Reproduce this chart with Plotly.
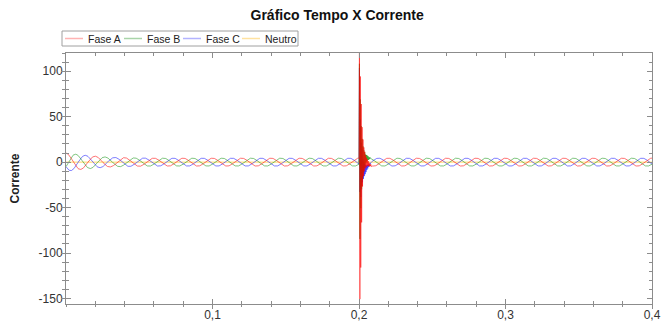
import numpy as np
import plotly.graph_objects as go

# ---------------- data ----------------
freq_hz = 50.0
phase_deg = {"Fase A": 0.0, "Fase B": -120.0, "Fase C": 120.0}
# amplitude envelope of the phase currents (read at these times)
env_t = [0.0, 0.01, 0.02, 0.03, 0.045, 0.06, 0.2, 0.215, 0.4]
env_a = [10.0, 8.0, 6.5, 5.3, 4.7, 4.4, 4.4, 4.4, 4.4]

fault_t0 = 0.2
fault_dt = 0.0003
fault_A = [0, 118, -155, 90, -120, 60, -70, 35, -30, 22, -18, 14, -12, 10, -8,
           7, -6, 5, -4, 4, -3, 3, -2, 2, -2, 1, -1, 1, -1, 0]
fault_B = [0, 110, -83, 70, -50, 40, -30, 25, -20, 16, -13, 11, -9, 8, -6,
           5, -4, 4, -3, 3, -2, 2, -2, 1, -1, 1, 0, 0, 0, 0]
fault_C = [0, 106, -30, 50, -35, 25, -22, 18, -18, 8, -14, 4, -11, 2, -9,
           1, -7, 0, -5, 0, -4, 0, -3, 0, -2, 0, -1, 0, 0, 0]
fault_N = [0, 4, -4, 3, -3, 2, -2, 1, -1, 0, 0, 0, 0, 0, 0,
           0, 0, 0, 0, 0, 0, 0, 0, 0, 0, 0, 0, 0, 0, 0]

series_names = ["Fase A", "Fase B", "Fase C", "Neutro"]
series_colors = ["rgba(255,0,0,0.55)", "rgba(0,140,0,0.5)",
                 "rgba(0,0,255,0.5)", "rgba(255,190,0,0.6)"]
legend_colors = ["#ffb3b3", "#a9d4a9", "#b3b3ff", "#ffe2a0"]

x_tickvals = [0.1, 0.2, 0.3, 0.4]
x_ticktext = ["0,1", "0,2", "0,3", "0,4"]
y_tickvals = [100, 50, 0, -50, -100, -150]
y_ticktext = ["100", "50", "0", "-50", "-100", "-150"]

# ---------------- build waveforms ----------------
t = np.arange(0, 0.4 + 1e-9, 0.0002)
t_f = fault_t0 + fault_dt * np.arange(len(fault_A))
t_all = np.union1d(t, t_f)
env_all = np.interp(t_all, env_t, env_a)

def fault_part(vals):
    out = np.zeros_like(t_all)
    mask = (t_all >= t_f[0]) & (t_all <= t_f[-1])
    out[mask] = np.interp(t_all[mask], t_f, vals)
    return out

ys = {}
fault_map = {"Fase A": fault_A, "Fase B": fault_B, "Fase C": fault_C}
for name in ["Fase A", "Fase B", "Fase C"]:
    base = env_all * np.cos(2 * np.pi * freq_hz * t_all + np.deg2rad(phase_deg[name]))
    ys[name] = base + fault_part(fault_map[name])
ys["Neutro"] = fault_part(fault_N)

FONT = "Liberation Sans, Arial, sans-serif"
AXC = "#8c8c8c"

fig = go.Figure()
# draw neutral first, phase A last (on top)
for name, col in list(zip(series_names, series_colors))[::-1]:
    fig.add_trace(go.Scatter(x=t_all, y=ys[name], mode="lines", name=name,
                             line=dict(color=col, width=1), showlegend=False))
# dummy trace so that the overlay axes (outer half of the crossing ticks) are drawn
fig.add_trace(go.Scatter(x=[None], y=[None], xaxis="x2", yaxis="y2",
                         showlegend=False, hoverinfo="skip"))

axis_common = dict(showline=True, linecolor=AXC, linewidth=1, mirror="ticks",
                   ticks="inside", tickcolor=AXC, showgrid=False, zeroline=False,
                   tickfont=dict(family=FONT, size=12, color="#333333"))
fig.update_layout(
    xaxis=dict(range=[0, 0.4], tickvals=x_tickvals, ticktext=x_ticktext, ticklen=5,
               minor=dict(dtick=0.02, ticks="inside", ticklen=3, tickcolor=AXC),
               **axis_common),
    yaxis=dict(range=[-156, 120], tickvals=y_tickvals, ticktext=y_ticktext, ticklen=5,
               minor=dict(dtick=10, ticks="inside", ticklen=3, tickcolor=AXC),
               title=dict(text="<b>Corrente</b>", font=dict(family=FONT, size=12, color="#222"),
                          standoff=16),
               **axis_common),
    xaxis2=dict(overlaying="x", matches="x", side="bottom", anchor="y2",
                range=[0, 0.4], tickvals=x_tickvals, ticks="outside", ticklen=4,
                tickcolor=AXC, showticklabels=False, showgrid=False, zeroline=False,
                showline=False,
                minor=dict(dtick=0.02, ticks="outside", ticklen=2, tickcolor=AXC)),
    yaxis2=dict(overlaying="y", matches="y", side="left", anchor="x2",
                range=[-156, 120], tickvals=y_tickvals, ticks="outside", ticklen=4,
                tickcolor=AXC, showticklabels=False, showgrid=False, zeroline=False,
                showline=False,
                minor=dict(dtick=10, ticks="outside", ticklen=3, tickcolor=AXC)),
)

# ---------------- legend box (drawn in pixel-like paper coords) ----------------
W, H = 665, 334
ml, mr, mt, mb = 66, 13, 53, 30
pw, ph = W - ml - mr, H - mt - mb
def px(x):
    return (x - ml) / pw
def py(y):
    return (H - mb - y) / ph

shapes = [dict(type="rect", xref="paper", yref="paper", x0=px(62), x1=px(298),
               y0=py(46), y1=py(31), line=dict(color="#a0a0a0", width=1),
               fillcolor="white", layer="above")]
annotations = []
item_x = [65, 124, 183, 242]
for xs, name, col in zip(item_x, series_names, legend_colors):
    shapes.append(dict(type="line", xref="paper", yref="paper", x0=px(xs), x1=px(xs + 18),
                       y0=py(38.5), y1=py(38.5), line=dict(color=col, width=1.5)))
    annotations.append(dict(xref="paper", yref="paper", x=px(xs + 21), y=py(38.5),
                            text=name, showarrow=False, xanchor="left", yanchor="middle",
                            font=dict(family=FONT, size=10.5, color="#222")))

fig.update_layout(
    width=W, height=H,
    margin=dict(l=ml, r=mr, t=mt, b=mb, autoexpand=False),
    paper_bgcolor="white", plot_bgcolor="white",
    title=dict(text="<b>Gráfico Tempo X Corrente</b>", x=0.507, xanchor="center",
               y=0.955, yanchor="middle", font=dict(family=FONT, size=14, color="#111")),
    shapes=shapes, annotations=annotations,
    showlegend=False,
)

fig.write_html("out.html")
